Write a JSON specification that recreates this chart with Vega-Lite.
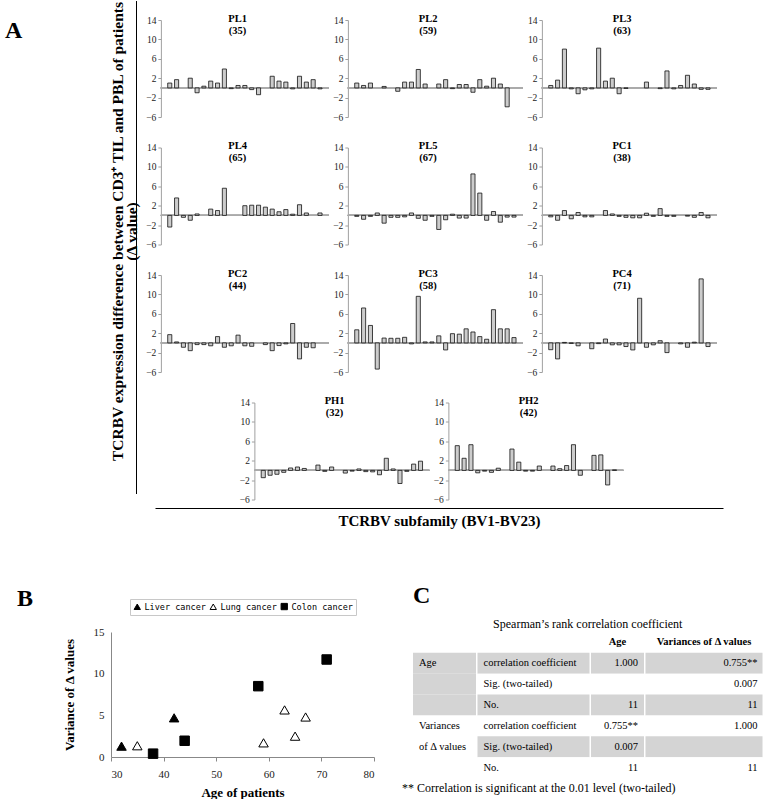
{
 "$schema": "https://vega.github.io/schema/vega-lite/v6.json",
 "background": "white",
 "padding": {"left": 5, "top": 0, "right": 0, "bottom": 0},
 "config": {
  "view": {"stroke": null},
  "font": "Liberation Serif",
  "axis": {"grid": false, "labelFont": "Liberation Serif", "titleFont": "Liberation Serif", "labelColor": "#222", "titleColor": "#000", "domainColor": "#a0a0a0", "tickColor": "#a0a0a0", "labelOverlap": false},
  "title": {"font": "Liberation Serif", "color": "#000"}
 },
 "datasets": {
  "PL1": [{"bv":1,"v":1.0},{"bv":2,"v":1.7},{"bv":4,"v":2.0},{"bv":5,"v":-1.0},{"bv":6,"v":0.35},{"bv":7,"v":1.4},{"bv":8,"v":1.0},{"bv":9,"v":3.9},{"bv":10,"v":-0.15},{"bv":11,"v":0.5},{"bv":12,"v":0.5},{"bv":13,"v":-0.35},{"bv":14,"v":-1.4},{"bv":16,"v":2.4},{"bv":17,"v":1.4},{"bv":18,"v":1.2},{"bv":19,"v":-0.2},{"bv":20,"v":2.4},{"bv":21,"v":1.2},{"bv":22,"v":1.7},{"bv":23,"v":-0.2}],
  "PL2": [{"bv":1,"v":1.0},{"bv":2,"v":0.5},{"bv":3,"v":1.0},{"bv":5,"v":0.3},{"bv":7,"v":-0.7},{"bv":8,"v":1.2},{"bv":9,"v":1.2},{"bv":10,"v":3.8},{"bv":11,"v":0.8},{"bv":13,"v":0.8},{"bv":14,"v":1.7},{"bv":15,"v":-0.15},{"bv":16,"v":0.7},{"bv":17,"v":0.7},{"bv":18,"v":-0.9},{"bv":19,"v":1.7},{"bv":20,"v":0.35},{"bv":21,"v":2.0},{"bv":22,"v":0.8},{"bv":23,"v":-3.9}],
  "PL3": [{"bv":1,"v":0.5},{"bv":2,"v":1.6},{"bv":3,"v":8.0},{"bv":4,"v":-0.2},{"bv":5,"v":-1.2},{"bv":6,"v":-0.4},{"bv":7,"v":-0.2},{"bv":8,"v":8.2},{"bv":9,"v":1.4},{"bv":10,"v":2.0},{"bv":11,"v":-1.2},{"bv":12,"v":-0.1},{"bv":15,"v":1.2},{"bv":17,"v":-0.15},{"bv":18,"v":3.5},{"bv":19,"v":-0.2},{"bv":20,"v":0.5},{"bv":21,"v":2.6},{"bv":22,"v":0.8},{"bv":23,"v":-0.3},{"bv":24,"v":-0.3}],
  "PL4": [{"bv":1,"v":-2.4},{"bv":2,"v":3.6},{"bv":3,"v":-0.4},{"bv":4,"v":-1.0},{"bv":5,"v":0.3},{"bv":7,"v":1.3},{"bv":8,"v":1.0},{"bv":9,"v":5.6},{"bv":12,"v":2.0},{"bv":13,"v":2.1},{"bv":14,"v":2.1},{"bv":15,"v":1.7},{"bv":16,"v":1.3},{"bv":17,"v":0.75},{"bv":18,"v":1.2},{"bv":19,"v":0.25},{"bv":20,"v":2.2},{"bv":21,"v":0.5},{"bv":23,"v":0.5}],
  "PL5": [{"bv":1,"v":-0.2},{"bv":2,"v":-0.8},{"bv":3,"v":-0.2},{"bv":4,"v":0.5},{"bv":5,"v":-1.6},{"bv":6,"v":-0.4},{"bv":7,"v":-0.4},{"bv":8,"v":-0.3},{"bv":9,"v":0.5},{"bv":10,"v":-0.6},{"bv":11,"v":-1.0},{"bv":12,"v":-0.2},{"bv":13,"v":-2.9},{"bv":14,"v":-0.9},{"bv":15,"v":0.25},{"bv":16,"v":-0.55},{"bv":17,"v":-0.55},{"bv":18,"v":8.55},{"bv":19,"v":4.6},{"bv":20,"v":-1.0},{"bv":21,"v":0.8},{"bv":22,"v":-1.4},{"bv":23,"v":-0.35},{"bv":24,"v":-0.35}],
  "PC1": [{"bv":1,"v":-0.3},{"bv":2,"v":-1.0},{"bv":3,"v":1.0},{"bv":4,"v":-0.7},{"bv":5,"v":0.6},{"bv":6,"v":-0.3},{"bv":7,"v":-0.3},{"bv":9,"v":1.0},{"bv":10,"v":0.3},{"bv":11,"v":-0.2},{"bv":12,"v":-0.4},{"bv":13,"v":-0.5},{"bv":14,"v":-0.5},{"bv":15,"v":0.45},{"bv":16,"v":-0.2},{"bv":17,"v":1.4},{"bv":18,"v":-0.2},{"bv":19,"v":-0.2},{"bv":21,"v":-0.15},{"bv":22,"v":-0.4},{"bv":23,"v":0.6},{"bv":24,"v":-0.5}],
  "PC2": [{"bv":1,"v":1.7},{"bv":2,"v":0.2},{"bv":3,"v":-0.9},{"bv":4,"v":-1.6},{"bv":5,"v":-0.35},{"bv":6,"v":-0.35},{"bv":7,"v":-0.6},{"bv":8,"v":1.3},{"bv":9,"v":-0.9},{"bv":10,"v":-0.6},{"bv":11,"v":1.6},{"bv":12,"v":-0.6},{"bv":13,"v":-0.7},{"bv":15,"v":-0.35},{"bv":16,"v":-1.6},{"bv":17,"v":-0.55},{"bv":18,"v":-0.2},{"bv":19,"v":4.0},{"bv":20,"v":-3.3},{"bv":21,"v":-0.9},{"bv":22,"v":-1.0}],
  "PC3": [{"bv":1,"v":2.7},{"bv":2,"v":7.2},{"bv":3,"v":3.6},{"bv":4,"v":-5.4},{"bv":5,"v":1.0},{"bv":6,"v":0.95},{"bv":7,"v":0.95},{"bv":8,"v":1.15},{"bv":9,"v":-0.2},{"bv":10,"v":9.6},{"bv":11,"v":0.2},{"bv":12,"v":0.2},{"bv":13,"v":1.45},{"bv":14,"v":-1.45},{"bv":15,"v":1.9},{"bv":16,"v":1.8},{"bv":17,"v":2.9},{"bv":18,"v":2.25},{"bv":19,"v":1.3},{"bv":20,"v":0.75},{"bv":21,"v":6.85},{"bv":22,"v":2.9},{"bv":23,"v":2.9},{"bv":24,"v":1.1}],
  "PC4": [{"bv":1,"v":-1.4},{"bv":2,"v":-3.3},{"bv":3,"v":0.1},{"bv":4,"v":-0.1},{"bv":5,"v":-0.6},{"bv":7,"v":-1.2},{"bv":8,"v":-0.15},{"bv":9,"v":0.8},{"bv":10,"v":-0.4},{"bv":11,"v":-0.4},{"bv":12,"v":-0.75},{"bv":13,"v":-1.45},{"bv":14,"v":9.2},{"bv":15,"v":-0.9},{"bv":16,"v":-0.4},{"bv":17,"v":0.45},{"bv":18,"v":-2.0},{"bv":20,"v":-0.2},{"bv":21,"v":-0.9},{"bv":22,"v":0.15},{"bv":23,"v":13.2},{"bv":24,"v":-0.75}],
  "PH1": [{"bv":1,"v":-1.5},{"bv":2,"v":-1.0},{"bv":3,"v":-0.8},{"bv":4,"v":-0.4},{"bv":5,"v":0.5},{"bv":6,"v":0.7},{"bv":7,"v":0.4},{"bv":9,"v":1.1},{"bv":10,"v":-0.2},{"bv":11,"v":0.7},{"bv":13,"v":-0.55},{"bv":14,"v":-0.15},{"bv":15,"v":0.3},{"bv":16,"v":-0.25},{"bv":17,"v":-0.3},{"bv":18,"v":-0.9},{"bv":19,"v":2.5},{"bv":20,"v":0.3},{"bv":21,"v":-2.7},{"bv":22,"v":-0.2},{"bv":23,"v":1.3},{"bv":24,"v":1.9}],
  "PH2": [{"bv":1,"v":5.1},{"bv":2,"v":2.5},{"bv":3,"v":5.3},{"bv":4,"v":-0.5},{"bv":5,"v":-0.15},{"bv":6,"v":-0.4},{"bv":7,"v":0.45},{"bv":9,"v":4.4},{"bv":10,"v":1.7},{"bv":11,"v":-0.15},{"bv":12,"v":-0.15},{"bv":13,"v":0.9},{"bv":15,"v":0.9},{"bv":16,"v":0.35},{"bv":17,"v":1.0},{"bv":18,"v":5.3},{"bv":19,"v":-1.0},{"bv":21,"v":3.1},{"bv":22,"v":3.2},{"bv":23,"v":-3.0},{"bv":24,"v":0.1}],
  "pts": [
   {"age":32,"var":1.3,"cancer":"Liver cancer"},{"age":42,"var":4.7,"cancer":"Liver cancer"},
   {"age":35,"var":1.35,"cancer":"Lung cancer"},{"age":59,"var":1.7,"cancer":"Lung cancer"},{"age":63,"var":5.65,"cancer":"Lung cancer"},{"age":65,"var":2.5,"cancer":"Lung cancer"},{"age":67,"var":4.8,"cancer":"Lung cancer"},
   {"age":38,"var":0.4,"cancer":"Colon cancer"},{"age":44,"var":1.95,"cancer":"Colon cancer"},{"age":58,"var":8.5,"cancer":"Colon cancer"},{"age":71,"var":11.7,"cancer":"Colon cancer"}
  ],
  "tbl": [
   {"c":1,"r":0,"t":""},{"c":1,"r":1,"t":"Age"},{"c":1,"r":2,"t":""},{"c":1,"r":3,"t":""},{"c":1,"r":4,"t":"Variances"},{"c":1,"r":5,"t":"of Δ values"},{"c":1,"r":6,"t":""},
   {"c":2,"r":0,"t":""},{"c":2,"r":1,"t":"correlation coefficient"},{"c":2,"r":2,"t":"Sig. (two-tailed)"},{"c":2,"r":3,"t":"No."},{"c":2,"r":4,"t":"correlation coefficient"},{"c":2,"r":5,"t":"Sig. (two-tailed)"},{"c":2,"r":6,"t":"No."},
   {"c":3,"r":0,"t":"Age"},{"c":3,"r":1,"t":"1.000"},{"c":3,"r":2,"t":""},{"c":3,"r":3,"t":"11"},{"c":3,"r":4,"t":"0.755**"},{"c":3,"r":5,"t":"0.007"},{"c":3,"r":6,"t":"11"},
   {"c":4,"r":0,"t":"Variances of Δ values"},{"c":4,"r":1,"t":"0.755**"},{"c":4,"r":2,"t":"0.007"},{"c":4,"r":3,"t":"11"},{"c":4,"r":4,"t":"1.000"},{"c":4,"r":5,"t":""},{"c":4,"r":6,"t":"11"}
  ]
 },
 "resolve": {"scale": {"shape": "independent", "fill": "independent", "stroke": "independent"}},
 "columns": 1,
 "spacing": 56,
 "concat": [
  {
   "spacing": -2,
   "hconcat": [
    {
     "width": 1, "height": 1,
     "data": {"values": [{}]},
     "title": {"text": "A", "orient": "left", "angle": 0, "anchor": "end", "align": "center", "baseline": "top", "dy": -1, "fontSize": 24, "fontWeight": "bold", "offset": 80},
     "mark": {"type": "rule", "opacity": 0},
     "encoding": {"y": {"datum": 0, "type": "quantitative", "axis": null}}
    },
    {
     "spacing": 5,
     "hconcat": [
      {
       "width": 1, "height": 474,
       "data": {"values": [{}]},
       "mark": {"type": "rule", "color": "#000", "strokeWidth": 1},
       "encoding": {
        "y": {"datum": 0, "type": "quantitative", "scale": {"domain": [0, 1]}, "axis": {"orient": "left", "domain": false, "ticks": false, "labels": false, "title": ["TCRBV expression difference between CD3⁺ TIL and PBL of patients", "(Δ value)"], "titleFontSize": 15.5, "titleFontWeight": "bold", "titleLineHeight": 14, "titlePadding": -3, "titleY": 211}},
        "y2": {"datum": 1.04}
       }
      },
      {
       "spacing": 3,
       "center": true,
       "vconcat": [
        {
         "spacing": 18.5,
         "center": true,
         "vconcat": [
          {"spacing": 2, "hconcat": [
           {"width": 168, "height": 97, "data": {"name": "PL1"}, "title": {"text": ["PL1", "(35)"], "fontSize": 10.5, "fontWeight": "bold", "offset": -21, "frame": "bounds", "anchor": "middle", "lineHeight": 12},
            "layer": [
             {"mark": {"type": "rule", "color": "#aaaaaa", "strokeWidth": 1}, "encoding": {"y": {"datum": 0, "type": "quantitative"}}},
             {"mark": {"type": "bar", "fill": "#cccccc", "stroke": "#111111", "strokeWidth": 0.8},
              "encoding": {"x": {"field": "bv", "type": "ordinal", "scale": {"domain": [1,2,3,4,5,6,7,8,9,10,11,12,13,14,15,16,17,18,19,20,21,22,23], "paddingInner": 0.4, "paddingOuter": 1.1}, "axis": null},
               "y": {"field": "v", "type": "quantitative", "scale": {"domain": [-6, 14], "nice": false}, "axis": {"values": [-6,-2,2,6,10,14], "tickCount": 12, "title": null, "labelFontSize": 9.5, "tickSize": 3, "labelPadding": 2, "labelOverlap": false}}}}
            ]},
           {"width": 175, "height": 97, "data": {"name": "PL2"}, "title": {"text": ["PL2", "(59)"], "fontSize": 10.5, "fontWeight": "bold", "offset": -21, "frame": "bounds", "anchor": "middle", "lineHeight": 12},
            "layer": [
             {"mark": {"type": "rule", "color": "#aaaaaa", "strokeWidth": 1}, "encoding": {"y": {"datum": 0, "type": "quantitative"}}},
             {"mark": {"type": "bar", "fill": "#cccccc", "stroke": "#111111", "strokeWidth": 0.8},
              "encoding": {"x": {"field": "bv", "type": "ordinal", "scale": {"domain": [1,2,3,4,5,6,7,8,9,10,11,12,13,14,15,16,17,18,19,20,21,22,23,24], "paddingInner": 0.4, "paddingOuter": 1.1}, "axis": null},
               "y": {"field": "v", "type": "quantitative", "scale": {"domain": [-6, 14], "nice": false}, "axis": {"values": [-6,-2,2,6,10,14], "tickCount": 12, "title": null, "labelFontSize": 9.5, "tickSize": 3, "labelPadding": 2, "labelOverlap": false}}}}
            ]},
           {"width": 175, "height": 97, "data": {"name": "PL3"}, "title": {"text": ["PL3", "(63)"], "fontSize": 10.5, "fontWeight": "bold", "offset": -21, "frame": "bounds", "anchor": "middle", "lineHeight": 12},
            "layer": [
             {"mark": {"type": "rule", "color": "#aaaaaa", "strokeWidth": 1}, "encoding": {"y": {"datum": 0, "type": "quantitative"}}},
             {"mark": {"type": "bar", "fill": "#cccccc", "stroke": "#111111", "strokeWidth": 0.8},
              "encoding": {"x": {"field": "bv", "type": "ordinal", "scale": {"domain": [1,2,3,4,5,6,7,8,9,10,11,12,13,14,15,16,17,18,19,20,21,22,23,24], "paddingInner": 0.4, "paddingOuter": 1.1}, "axis": null},
               "y": {"field": "v", "type": "quantitative", "scale": {"domain": [-6, 14], "nice": false}, "axis": {"values": [-6,-2,2,6,10,14], "tickCount": 12, "title": null, "labelFontSize": 9.5, "tickSize": 3, "labelPadding": 2, "labelOverlap": false}}}}
            ]}
          ]},
          {"spacing": 2, "hconcat": [
           {"width": 168, "height": 97, "data": {"name": "PL4"}, "title": {"text": ["PL4", "(65)"], "fontSize": 10.5, "fontWeight": "bold", "offset": -21, "frame": "bounds", "anchor": "middle", "lineHeight": 12},
            "layer": [
             {"mark": {"type": "rule", "color": "#aaaaaa", "strokeWidth": 1}, "encoding": {"y": {"datum": 0, "type": "quantitative"}}},
             {"mark": {"type": "bar", "fill": "#cccccc", "stroke": "#111111", "strokeWidth": 0.8},
              "encoding": {"x": {"field": "bv", "type": "ordinal", "scale": {"domain": [1,2,3,4,5,6,7,8,9,10,11,12,13,14,15,16,17,18,19,20,21,22,23], "paddingInner": 0.4, "paddingOuter": 1.1}, "axis": null},
               "y": {"field": "v", "type": "quantitative", "scale": {"domain": [-6, 14], "nice": false}, "axis": {"values": [-6,-2,2,6,10,14], "tickCount": 12, "title": null, "labelFontSize": 9.5, "tickSize": 3, "labelPadding": 2, "labelOverlap": false}}}}
            ]},
           {"width": 175, "height": 97, "data": {"name": "PL5"}, "title": {"text": ["PL5", "(67)"], "fontSize": 10.5, "fontWeight": "bold", "offset": -21, "frame": "bounds", "anchor": "middle", "lineHeight": 12},
            "layer": [
             {"mark": {"type": "rule", "color": "#aaaaaa", "strokeWidth": 1}, "encoding": {"y": {"datum": 0, "type": "quantitative"}}},
             {"mark": {"type": "bar", "fill": "#cccccc", "stroke": "#111111", "strokeWidth": 0.8},
              "encoding": {"x": {"field": "bv", "type": "ordinal", "scale": {"domain": [1,2,3,4,5,6,7,8,9,10,11,12,13,14,15,16,17,18,19,20,21,22,23,24], "paddingInner": 0.4, "paddingOuter": 1.1}, "axis": null},
               "y": {"field": "v", "type": "quantitative", "scale": {"domain": [-6, 14], "nice": false}, "axis": {"values": [-6,-2,2,6,10,14], "tickCount": 12, "title": null, "labelFontSize": 9.5, "tickSize": 3, "labelPadding": 2, "labelOverlap": false}}}}
            ]},
           {"width": 175, "height": 97, "data": {"name": "PC1"}, "title": {"text": ["PC1", "(38)"], "fontSize": 10.5, "fontWeight": "bold", "offset": -21, "frame": "bounds", "anchor": "middle", "lineHeight": 12},
            "layer": [
             {"mark": {"type": "rule", "color": "#aaaaaa", "strokeWidth": 1}, "encoding": {"y": {"datum": 0, "type": "quantitative"}}},
             {"mark": {"type": "bar", "fill": "#cccccc", "stroke": "#111111", "strokeWidth": 0.8},
              "encoding": {"x": {"field": "bv", "type": "ordinal", "scale": {"domain": [1,2,3,4,5,6,7,8,9,10,11,12,13,14,15,16,17,18,19,20,21,22,23,24], "paddingInner": 0.4, "paddingOuter": 1.1}, "axis": null},
               "y": {"field": "v", "type": "quantitative", "scale": {"domain": [-6, 14], "nice": false}, "axis": {"values": [-6,-2,2,6,10,14], "tickCount": 12, "title": null, "labelFontSize": 9.5, "tickSize": 3, "labelPadding": 2, "labelOverlap": false}}}}
            ]}
          ]},
          {"spacing": 2, "hconcat": [
           {"width": 168, "height": 97, "data": {"name": "PC2"}, "title": {"text": ["PC2", "(44)"], "fontSize": 10.5, "fontWeight": "bold", "offset": -21, "frame": "bounds", "anchor": "middle", "lineHeight": 12},
            "layer": [
             {"mark": {"type": "rule", "color": "#aaaaaa", "strokeWidth": 1}, "encoding": {"y": {"datum": 0, "type": "quantitative"}}},
             {"mark": {"type": "bar", "fill": "#cccccc", "stroke": "#111111", "strokeWidth": 0.8},
              "encoding": {"x": {"field": "bv", "type": "ordinal", "scale": {"domain": [1,2,3,4,5,6,7,8,9,10,11,12,13,14,15,16,17,18,19,20,21,22,23], "paddingInner": 0.4, "paddingOuter": 1.1}, "axis": null},
               "y": {"field": "v", "type": "quantitative", "scale": {"domain": [-6, 14], "nice": false}, "axis": {"values": [-6,-2,2,6,10,14], "tickCount": 12, "title": null, "labelFontSize": 9.5, "tickSize": 3, "labelPadding": 2, "labelOverlap": false}}}}
            ]},
           {"width": 175, "height": 97, "data": {"name": "PC3"}, "title": {"text": ["PC3", "(58)"], "fontSize": 10.5, "fontWeight": "bold", "offset": -21, "frame": "bounds", "anchor": "middle", "lineHeight": 12},
            "layer": [
             {"mark": {"type": "rule", "color": "#aaaaaa", "strokeWidth": 1}, "encoding": {"y": {"datum": 0, "type": "quantitative"}}},
             {"mark": {"type": "bar", "fill": "#cccccc", "stroke": "#111111", "strokeWidth": 0.8},
              "encoding": {"x": {"field": "bv", "type": "ordinal", "scale": {"domain": [1,2,3,4,5,6,7,8,9,10,11,12,13,14,15,16,17,18,19,20,21,22,23,24], "paddingInner": 0.4, "paddingOuter": 1.1}, "axis": null},
               "y": {"field": "v", "type": "quantitative", "scale": {"domain": [-6, 14], "nice": false}, "axis": {"values": [-6,-2,2,6,10,14], "tickCount": 12, "title": null, "labelFontSize": 9.5, "tickSize": 3, "labelPadding": 2, "labelOverlap": false}}}}
            ]},
           {"width": 175, "height": 97, "data": {"name": "PC4"}, "title": {"text": ["PC4", "(71)"], "fontSize": 10.5, "fontWeight": "bold", "offset": -21, "frame": "bounds", "anchor": "middle", "lineHeight": 12},
            "layer": [
             {"mark": {"type": "rule", "color": "#aaaaaa", "strokeWidth": 1}, "encoding": {"y": {"datum": 0, "type": "quantitative"}}},
             {"mark": {"type": "bar", "fill": "#cccccc", "stroke": "#111111", "strokeWidth": 0.8},
              "encoding": {"x": {"field": "bv", "type": "ordinal", "scale": {"domain": [1,2,3,4,5,6,7,8,9,10,11,12,13,14,15,16,17,18,19,20,21,22,23,24], "paddingInner": 0.4, "paddingOuter": 1.1}, "axis": null},
               "y": {"field": "v", "type": "quantitative", "scale": {"domain": [-6, 14], "nice": false}, "axis": {"values": [-6,-2,2,6,10,14], "tickCount": 12, "title": null, "labelFontSize": 9.5, "tickSize": 3, "labelPadding": 2, "labelOverlap": false}}}}
            ]}
          ]},
          {"spacing": 2, "hconcat": [
           {"width": 175, "height": 97, "data": {"name": "PH1"}, "title": {"text": ["PH1", "(32)"], "fontSize": 10.5, "fontWeight": "bold", "offset": -21, "frame": "bounds", "anchor": "middle", "lineHeight": 12},
            "layer": [
             {"mark": {"type": "rule", "color": "#aaaaaa", "strokeWidth": 1}, "encoding": {"y": {"datum": 0, "type": "quantitative"}}},
             {"mark": {"type": "bar", "fill": "#cccccc", "stroke": "#111111", "strokeWidth": 0.8},
              "encoding": {"x": {"field": "bv", "type": "ordinal", "scale": {"domain": [1,2,3,4,5,6,7,8,9,10,11,12,13,14,15,16,17,18,19,20,21,22,23,24], "paddingInner": 0.4, "paddingOuter": 1.1}, "axis": null},
               "y": {"field": "v", "type": "quantitative", "scale": {"domain": [-6, 14], "nice": false}, "axis": {"values": [-6,-2,2,6,10,14], "tickCount": 12, "title": null, "labelFontSize": 9.5, "tickSize": 3, "labelPadding": 2, "labelOverlap": false}}}}
            ]},
           {"width": 175, "height": 97, "data": {"name": "PH2"}, "title": {"text": ["PH2", "(42)"], "fontSize": 10.5, "fontWeight": "bold", "offset": -21, "frame": "bounds", "anchor": "middle", "lineHeight": 12},
            "layer": [
             {"mark": {"type": "rule", "color": "#aaaaaa", "strokeWidth": 1}, "encoding": {"y": {"datum": 0, "type": "quantitative"}}},
             {"mark": {"type": "bar", "fill": "#cccccc", "stroke": "#111111", "strokeWidth": 0.8},
              "encoding": {"x": {"field": "bv", "type": "ordinal", "scale": {"domain": [1,2,3,4,5,6,7,8,9,10,11,12,13,14,15,16,17,18,19,20,21,22,23,24], "paddingInner": 0.4, "paddingOuter": 1.1}, "axis": null},
               "y": {"field": "v", "type": "quantitative", "scale": {"domain": [-6, 14], "nice": false}, "axis": {"values": [-6,-2,2,6,10,14], "tickCount": 12, "title": null, "labelFontSize": 9.5, "tickSize": 3, "labelPadding": 2, "labelOverlap": false}}}}
            ]}
          ]}
         ]
        },
        {
         "width": 568, "height": 1,
         "data": {"values": [{}]},
         "mark": {"type": "rule", "opacity": 0},
         "encoding": {"x": {"datum": 0, "type": "quantitative", "scale": {"domain": [0, 1]}, "axis": {"orient": "bottom", "domain": true, "domainColor": "#000", "ticks": false, "labels": false, "title": "TCRBV subfamily (BV1-BV23)", "titleFontSize": 15, "titleFontWeight": "bold", "titlePadding": 5}}}
        }
       ]
      }
     ]
    }
   ]
  },
  {
   "spacing": 27,
   "resolve": {"scale": {"shape": "independent", "fill": "independent", "stroke": "independent"}},
   "hconcat": [
    {
     "width": 263, "height": 125,
     "data": {"name": "pts"},
     "title": {"text": "B", "anchor": "start", "frame": "bounds", "dx": -46, "baseline": "bottom", "offset": -36, "fontSize": 24, "fontWeight": "bold"},
     "mark": {"type": "point", "filled": true, "strokeWidth": 1, "opacity": 1, "size": 90},
     "encoding": {
      "x": {"field": "age", "type": "quantitative", "scale": {"domain": [30, 80], "nice": false, "zero": false}, "axis": {"values": [30,40,50,60,70,80], "title": "Age of patients", "titleFontSize": 13, "titleFontWeight": "bold", "titlePadding": 7, "labelFontSize": 11, "tickSize": 4, "labelPadding": 7, "domainColor": "#888", "tickColor": "#888"}},
      "y": {"field": "var", "type": "quantitative", "scale": {"domain": [0, 15], "nice": false}, "axis": {"values": [0,5,10,15], "title": "Variance of Δ values", "titleFontSize": 13, "titleFontWeight": "bold", "titlePadding": 17, "labelFontSize": 11, "tickSize": 0, "labelPadding": 7, "domainColor": "#888"}},
      "shape": {"field": "cancer", "type": "nominal", "scale": {"domain": ["Liver cancer", "Lung cancer", "Colon cancer"], "range": ["triangle-up", "triangle-up", "square"]},
       "legend": {"title": null, "orient": "none", "legendX": 19, "legendY": -33, "direction": "horizontal", "strokeColor": "#c8c8c8", "padding": 3, "labelFont": "DejaVu Sans Mono", "labelFontSize": 8.5, "columnPadding": 2, "labelOffset": 3, "symbolSize": 40, "symbolStrokeWidth": 1}},
      "fill": {"field": "cancer", "type": "nominal", "scale": {"domain": ["Liver cancer", "Lung cancer", "Colon cancer"], "range": ["#000000", "#ffffff", "#000000"]},
       "legend": {"title": null, "orient": "none", "legendX": 19, "legendY": -33, "direction": "horizontal", "strokeColor": "#c8c8c8", "padding": 3, "labelFont": "DejaVu Sans Mono", "labelFontSize": 8.5, "columnPadding": 2, "labelOffset": 3, "symbolSize": 40, "symbolStrokeWidth": 1}},
      "stroke": {"field": "cancer", "type": "nominal", "scale": {"domain": ["Liver cancer", "Lung cancer", "Colon cancer"], "range": ["#000000", "#000000", "#000000"]},
       "legend": {"title": null, "orient": "none", "legendX": 19, "legendY": -33, "direction": "horizontal", "strokeColor": "#c8c8c8", "padding": 3, "labelFont": "DejaVu Sans Mono", "labelFontSize": 8.5, "columnPadding": 2, "labelOffset": 3, "symbolSize": 40, "symbolStrokeWidth": 1}}
     }
    },
    {
     "title": {"text": "C", "anchor": "start", "frame": "group", "baseline": "bottom", "offset": -14, "fontSize": 24, "fontWeight": "bold"},
     "vconcat": [
      {
       "title": {"text": "** Correlation is significant at the 0.01 level (two-tailed)", "orient": "bottom", "anchor": "start", "frame": "group", "fontSize": 12, "fontWeight": "normal", "offset": 5, "dx": -11},
       "vconcat": [
        {
         "title": {"text": "Spearman’s rank correlation coefficient", "fontSize": 12, "fontWeight": "normal", "anchor": "middle", "offset": 1},
         "spacing": 1.5,
         "hconcat": [
          {"width": 63, "height": 146, "data": {"name": "tbl"}, "transform": [{"filter": "datum.c === 1"}],
           "encoding": {"y": {"field": "r", "type": "ordinal", "scale": {"domain": [0,1,2,3,4,5,6], "paddingInner": 0, "paddingOuter": 0}, "axis": null}},
           "layer": [
            {"mark": {"type": "rect"}, "encoding": {"x": {"datum": 0, "type": "quantitative", "scale": {"domain": [0, 1]}, "axis": null}, "x2": {"datum": 1}, "fill": {"condition": {"test": "datum.r >= 1 && datum.r <= 3", "value": "#d4d4d4"}, "value": "#ffffff"}}},
            {"mark": {"type": "text", "align": "left", "baseline": "middle", "dx": 6, "fontSize": 10.5, "font": "Liberation Serif"}, "encoding": {"x": {"datum": 0, "type": "quantitative"}, "text": {"field": "t"}}}
           ]},
          {"width": 112, "height": 146, "data": {"name": "tbl"}, "transform": [{"filter": "datum.c === 2"}],
           "encoding": {"y": {"field": "r", "type": "ordinal", "scale": {"domain": [0,1,2,3,4,5,6], "paddingInner": 0, "paddingOuter": 0}, "axis": null}},
           "layer": [
            {"mark": {"type": "rect"}, "encoding": {"x": {"datum": 0, "type": "quantitative", "scale": {"domain": [0, 1]}, "axis": null}, "x2": {"datum": 1}, "fill": {"condition": {"test": "datum.r % 2 === 1", "value": "#d4d4d4"}, "value": "#ffffff"}}},
            {"mark": {"type": "text", "align": "left", "baseline": "middle", "dx": 6, "fontSize": 10.5, "font": "Liberation Serif"}, "encoding": {"x": {"datum": 0, "type": "quantitative"}, "text": {"field": "t"}}}
           ]},
          {"width": 53, "height": 146, "data": {"name": "tbl"}, "transform": [{"filter": "datum.c === 3"}],
           "encoding": {"y": {"field": "r", "type": "ordinal", "scale": {"domain": [0,1,2,3,4,5,6], "paddingInner": 0, "paddingOuter": 0}, "axis": null}},
           "layer": [
            {"mark": {"type": "rect"}, "encoding": {"x": {"datum": 0, "type": "quantitative", "scale": {"domain": [0, 1]}, "axis": null}, "x2": {"datum": 1}, "fill": {"condition": {"test": "datum.r % 2 === 1", "value": "#d4d4d4"}, "value": "#ffffff"}}},
            {"transform": [{"filter": "datum.r > 0"}], "mark": {"type": "text", "align": "right", "baseline": "middle", "dx": -6, "fontSize": 10.5, "font": "Liberation Serif"}, "encoding": {"x": {"datum": 1, "type": "quantitative"}, "text": {"field": "t"}}},
            {"transform": [{"filter": "datum.r === 0"}], "mark": {"type": "text", "align": "center", "baseline": "middle", "fontSize": 10.5, "fontWeight": "bold", "font": "Liberation Serif"}, "encoding": {"x": {"datum": 0.5, "type": "quantitative"}, "text": {"field": "t"}}}
           ]},
          {"width": 117, "height": 146, "data": {"name": "tbl"}, "transform": [{"filter": "datum.c === 4"}],
           "encoding": {"y": {"field": "r", "type": "ordinal", "scale": {"domain": [0,1,2,3,4,5,6], "paddingInner": 0, "paddingOuter": 0}, "axis": null}},
           "layer": [
            {"mark": {"type": "rect"}, "encoding": {"x": {"datum": 0, "type": "quantitative", "scale": {"domain": [0, 1]}, "axis": null}, "x2": {"datum": 1}, "fill": {"condition": {"test": "datum.r % 2 === 1", "value": "#d4d4d4"}, "value": "#ffffff"}}},
            {"transform": [{"filter": "datum.r > 0"}], "mark": {"type": "text", "align": "right", "baseline": "middle", "dx": -5, "fontSize": 10.5, "font": "Liberation Serif"}, "encoding": {"x": {"datum": 1, "type": "quantitative"}, "text": {"field": "t"}}},
            {"transform": [{"filter": "datum.r === 0"}], "mark": {"type": "text", "align": "center", "baseline": "middle", "fontSize": 10.5, "fontWeight": "bold", "font": "Liberation Serif"}, "encoding": {"x": {"datum": 0.5, "type": "quantitative"}, "text": {"field": "t"}}}
           ]}
         ]
        }
       ]
      }
     ]
    }
   ]
  }
 ]
}
